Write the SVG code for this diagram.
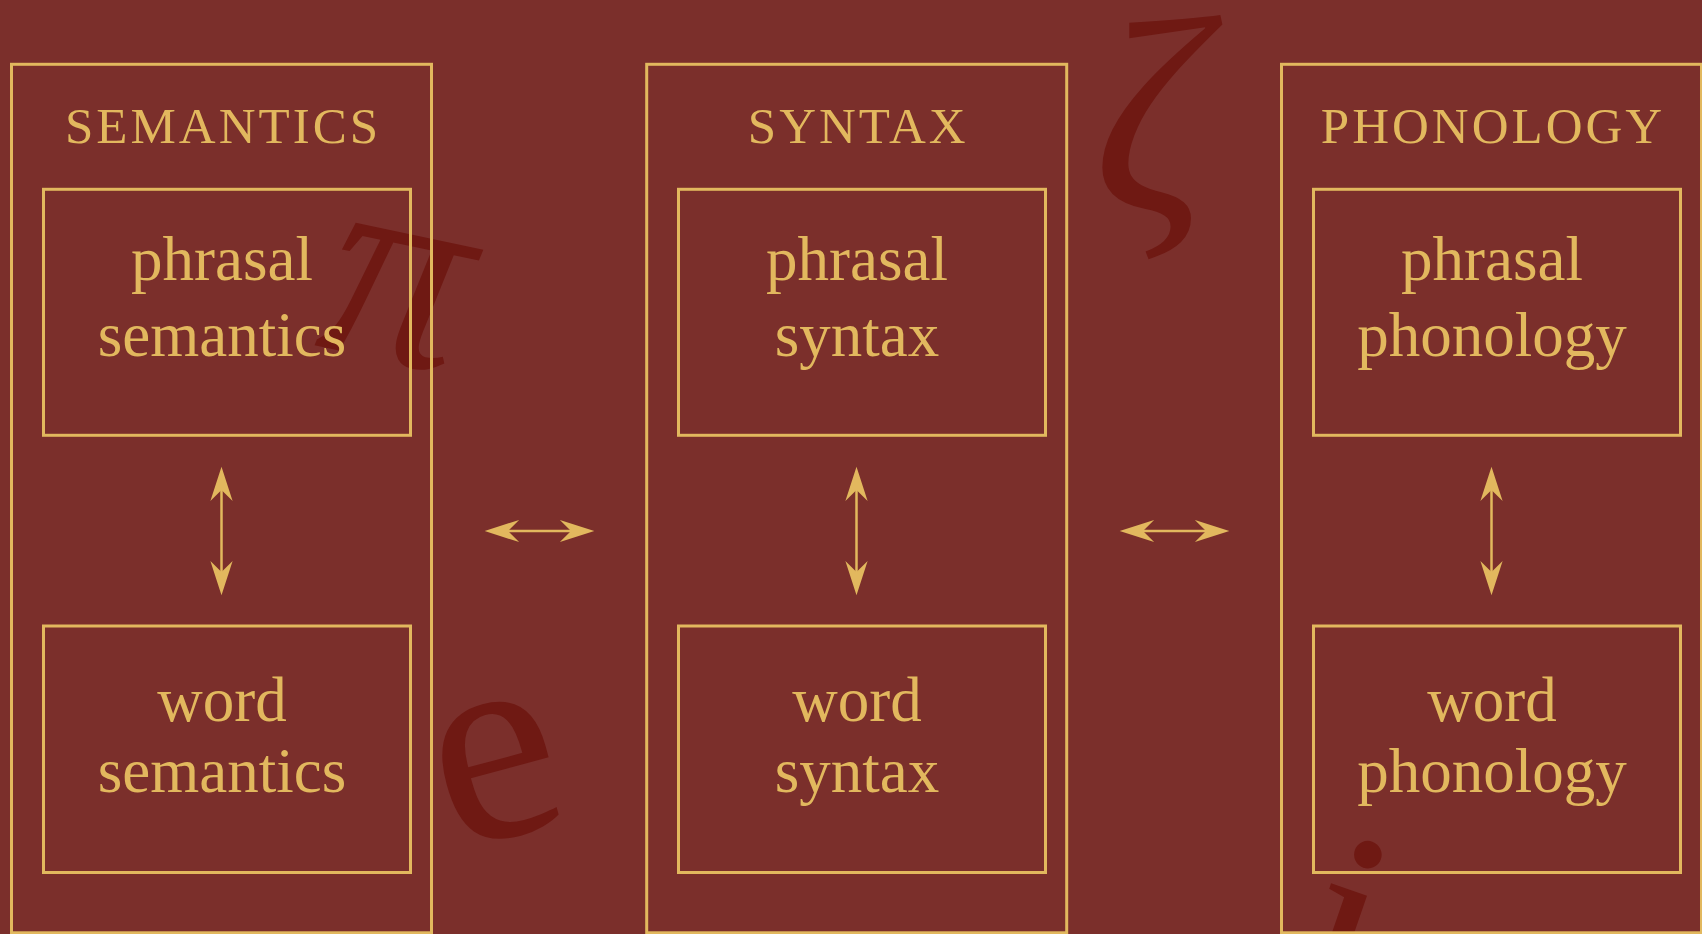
<svg xmlns="http://www.w3.org/2000/svg" width="1702" height="934" viewBox="0 0 1702 934">
  <style>
    .bg { fill: #7b2f2b; }
    .deco { fill: #6f1913; font-family: "Liberation Serif", "Times New Roman", serif; }
    .outer, .inner { fill: none; stroke: #e2b85e; stroke-width: 3; }
    .title { fill: #e2b85e; font-family: "Liberation Serif", "Times New Roman", serif; font-size: 51px; letter-spacing: 3px; text-anchor: middle; }
    .label { fill: #e2b85e; font-family: "Liberation Serif", "Times New Roman", serif; font-size: 63px; text-anchor: middle; }
    .conn { stroke: #e2b85e; stroke-width: 2.5; fill: none; }
  </style>
  <defs>
    <marker id="head" markerUnits="userSpaceOnUse" markerWidth="40" markerHeight="30" viewBox="-12 -12 36 24" refX="0" refY="0" orient="auto-start-reverse">
      <path d="M21,0 L-10,-10 L0,0 L-10,10 Z" fill="#e2b85e"/>
    </marker>
  </defs>
  <rect class="bg" x="0" y="0" width="1702" height="934"/>

  <g id="decorations">
    <text class="deco" font-style="italic" font-size="280" text-anchor="middle" transform="translate(395,297) rotate(12)" x="0" y="64">π</text>
    <text class="deco" font-style="italic" font-size="280" text-anchor="middle" transform="translate(1150,143)" x="0" y="68">ζ</text>
    <text class="deco" font-size="285" text-anchor="middle" transform="translate(497,771) rotate(-15)" x="0" y="66">e</text>
    <text class="deco" font-size="260" text-anchor="middle" transform="translate(1318,1005) rotate(19)" x="0" y="0">i</text>
  </g>

  <g id="semantics">
    <rect class="outer" x="11.5" y="64.3" width="420" height="868.5"/>
    <text class="title" x="223" y="143.3">SEMANTICS</text>
  </g>
  <g id="phrasal-semantics">
    <rect class="inner" x="43.5" y="189.3" width="367" height="246"/>
    <text class="label" x="222" y="279.5">phrasal</text>
    <text class="label" x="222" y="356">semantics</text>
  </g>
  <g id="word-semantics">
    <rect class="inner" x="43.5" y="626" width="367" height="246.5"/>
    <text class="label" x="222" y="721">word</text>
    <text class="label" x="222" y="792">semantics</text>
  </g>

  <g id="syntax">
    <rect class="outer" x="646.7" y="64.3" width="420" height="868.5"/>
    <text class="title" x="858.2" y="143.3">SYNTAX</text>
  </g>
  <g id="phrasal-syntax">
    <rect class="inner" x="678.5" y="189.3" width="367" height="246"/>
    <text class="label" x="857" y="279.5">phrasal</text>
    <text class="label" x="857" y="356">syntax</text>
  </g>
  <g id="word-syntax">
    <rect class="inner" x="678.5" y="626" width="367" height="246.5"/>
    <text class="label" x="857" y="721">word</text>
    <text class="label" x="857" y="792">syntax</text>
  </g>

  <g id="phonology">
    <rect class="outer" x="1281.5" y="64.3" width="420" height="868.5"/>
    <text class="title" x="1493" y="143.3">PHONOLOGY</text>
  </g>
  <g id="phrasal-phonology">
    <rect class="inner" x="1313.5" y="189.3" width="367" height="246"/>
    <text class="label" x="1492" y="279.5">phrasal</text>
    <text class="label" x="1492" y="356">phonology</text>
  </g>
  <g id="word-phonology">
    <rect class="inner" x="1313.5" y="626" width="367" height="246.5"/>
    <text class="label" x="1492" y="721">word</text>
    <text class="label" x="1492" y="792">phonology</text>
  </g>

  <g id="connectors">
    <line class="conn" x1="221.5" y1="490" x2="221.5" y2="572" marker-start="url(#head)" marker-end="url(#head)"/>
    <line class="conn" x1="856.5" y1="490" x2="856.5" y2="572" marker-start="url(#head)" marker-end="url(#head)"/>
    <line class="conn" x1="1491.5" y1="490" x2="1491.5" y2="572" marker-start="url(#head)" marker-end="url(#head)"/>
    <line class="conn" x1="508" y1="531" x2="571" y2="531" marker-start="url(#head)" marker-end="url(#head)"/>
    <line class="conn" x1="1143" y1="531" x2="1206" y2="531" marker-start="url(#head)" marker-end="url(#head)"/>
  </g>
</svg>
